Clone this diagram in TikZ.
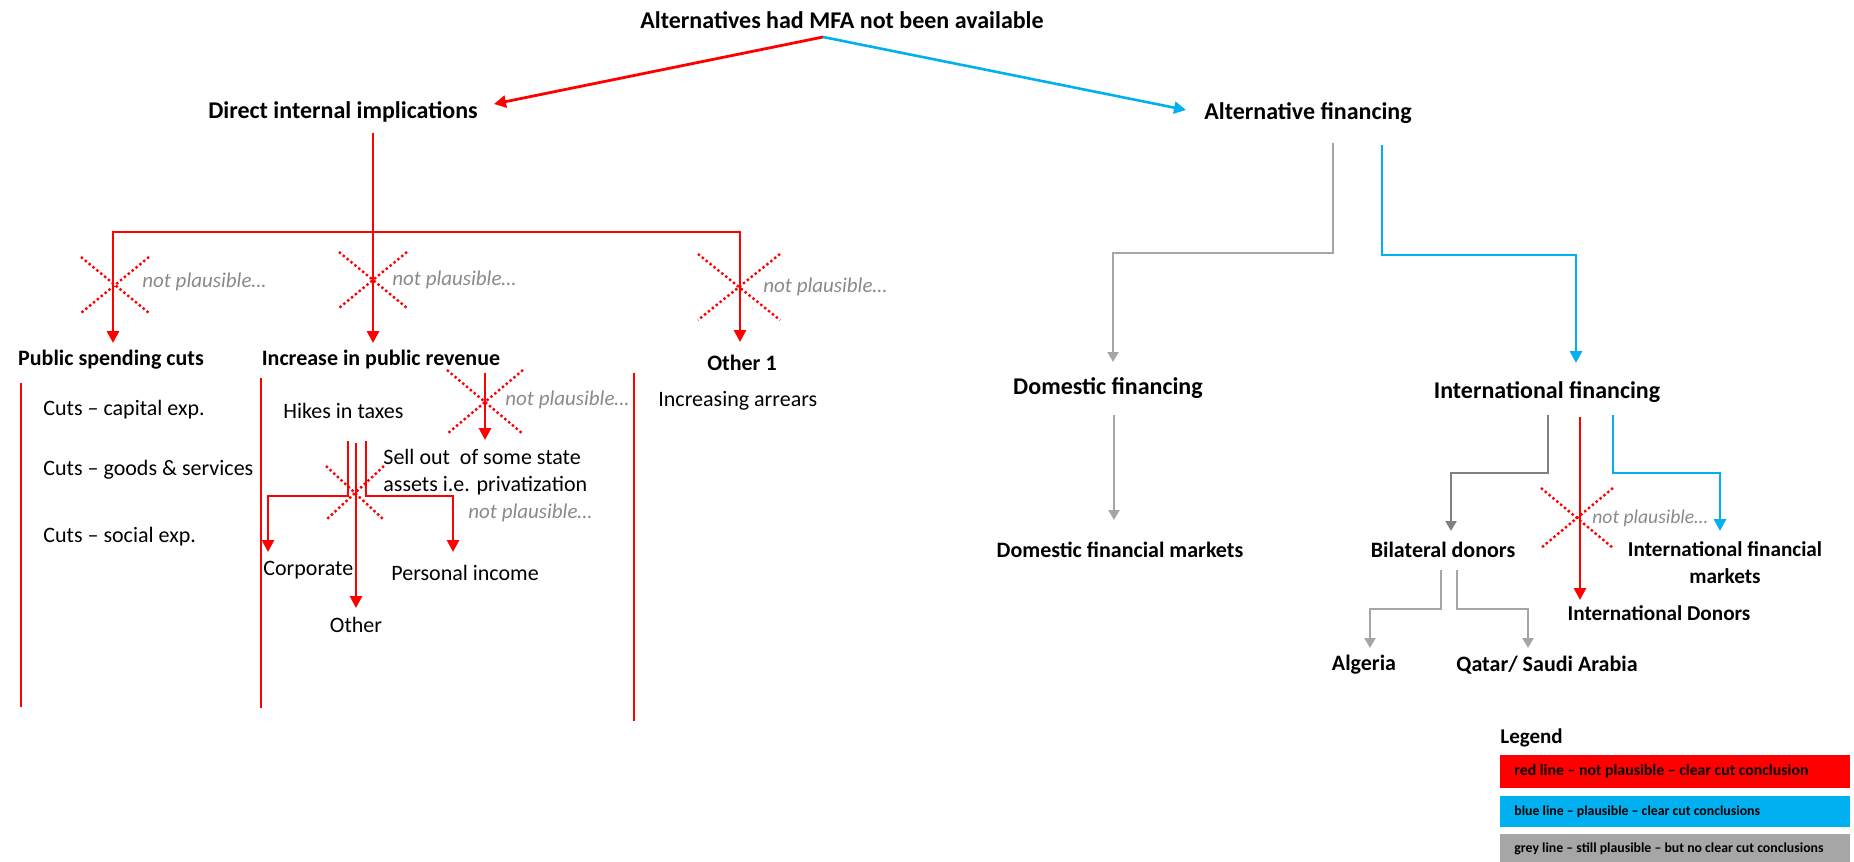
\documentclass[tikz,border=0pt]{standalone}
\usepackage{fontspec}
\setmainfont{Carlito}
\usetikzlibrary{arrows.meta}
\definecolor{cred}{HTML}{FF0000}
\definecolor{cblue}{HTML}{00B0F0}
\definecolor{cgrey}{HTML}{A6A6A6}
\definecolor{cdgrey}{HTML}{808080}
\definecolor{nptext}{HTML}{8A8A8A}
\newcommand\xcross[4]{%
  \draw[xmark] (#1-#3,#2-#4) -- (#1+#3,#2+#4);
  \draw[xmark] (#1+#3,#2-#4) -- (#1-#3,#2+#4);}
\begin{document}
\begin{tikzpicture}[x=0.5pt,y=-0.5pt,
  rl/.style={draw=cred,line width=1.4pt},
  ra/.style={rl,-{Triangle[length=6pt,width=6pt]}},
  bl/.style={draw=cblue,line width=1.3pt},
  ba/.style={bl,-{Triangle[length=6pt,width=6pt]}},
  gl/.style={draw=cgrey,line width=1.1pt},
  ga/.style={gl,-{Triangle[length=5pt,width=5.5pt]}},
  dga/.style={draw=cdgrey,line width=1.1pt,-{Triangle[length=5pt,width=5.5pt]}},
  sepline/.style={draw=cred,line width=0.6pt},
  xmark/.style={draw=cred,line width=1.2pt,dash pattern=on 1.2pt off 1.3pt},
  np/.style={font=\fontsize{10.5}{12}\selectfont\itshape,text=nptext,anchor=west,inner sep=0pt},
  hb/.style={font=\fontsize{12}{14}\selectfont\bfseries,inner sep=1pt},
  hs/.style={font=\fontsize{11}{13.5}\selectfont\bfseries,inner sep=1pt},
  hsn/.style={font=\fontsize{10.6}{13.5}\selectfont\bfseries,inner sep=1pt},
  tx/.style={font=\fontsize{11}{13.5}\selectfont,anchor=west,inner sep=0pt},
  legtext/.style={anchor=west,inner sep=0pt,font=\fontsize{6.9}{8}\selectfont\bfseries}
]
\useasboundingbox (0,0) rectangle (1854,862);

% ---------- top ----------
\node[hb] (title) at (842,20) {Alternatives had MFA not been available};
\coordinate (apex) at (823,37);
\node[hb] (dii) at (343,112) {Direct internal implications};
\node[hb] (alt) at (1308,113) {Alternative financing};
\coordinate (dii-in) at (494,104);
\coordinate (alt-in) at (1186,110);
\draw[ra] (apex) -- (dii-in);
\draw[ba] (apex) -- (alt-in);

% ---------- direct internal implications ----------
\coordinate (dii-out) at (373,133);
\coordinate (hM) at (373,232);
\coordinate (psc-in) at (113,343);
\coordinate (ipr-in) at (373,343);
\coordinate (oth-in) at (740,342);
\draw[ra] (hM) -| (psc-in);
\draw[ra] (hM) -| (oth-in);
\draw[ra] (dii-out) -- (ipr-in);

\xcross{115}{285}{34}{28}
\xcross{373}{280}{34}{28}
\xcross{739}{287}{41}{33}
\node[np] (np1) at (142,282) {not plausible…};
\node[np] (np2) at (392,280) {not plausible…};
\node[np] (np3) at (763,287) {not plausible…};

\node[hs] (psc) at (111,360) {Public spending cuts};
\node[hs] (ipr) at (381,360) {Increase in public revenue};
\node[hs] (oth1) at (742,363) {Other 1};

\draw[sepline] (21,383) -- (21,707);
\draw[sepline] (261,378) -- (261,708);
\draw[sepline] (634,373) -- (634,721);

\node[tx] (cap) at (43,410) {Cuts – capital exp.};
\node[tx] (gs) at (43,470) {Cuts – goods \& services};
\node[tx] (soc) at (43,537) {Cuts – social exp.};
\node[tx] (hikes) at (283,411) {Hikes in taxes};
\node[tx] (arrears) at (658,401) {Increasing arrears};
\node[tx,align=left] (sell) at (383,472) {Sell out\ \ of some state\\assets i.e. privatization};
\node[tx] (corp) at (263,570) {Corporate};
\node[tx] (pers) at (391,573) {Personal income};
\node[font=\fontsize{11}{13.5}\selectfont,inner sep=0pt] (other) at (356,625) {Other};

% privatization branch
\coordinate (sell-src) at (485,373);
\coordinate (sell-in) at (485,440);
\draw[ra] (sell-src) -- (sell-in);
\xcross{485}{402}{38}{32}
\node[np] (np4) at (505,400) {not plausible…};

% tax branches
\coordinate (tax-a) at (348,441);
\coordinate (tax-b) at (356,443);
\coordinate (tax-c) at (366,441);
\coordinate (corp-in) at (268,552);
\coordinate (other-in) at (356,608);
\coordinate (pers-in) at (453,552);
\draw[ra] (tax-a) |- (300,496) -| (corp-in);
\draw[ra] (tax-b) -- (other-in);
\draw[ra] (tax-c) |- (420,496) -| (pers-in);
\xcross{355}{493}{29}{27}
\node[np] (np5) at (468,513) {not plausible…};

% ---------- alternative financing ----------
\coordinate (alt-g) at (1333,143);
\coordinate (alt-b) at (1382,145);
\coordinate (domf-in) at (1113,362);
\coordinate (intf-in) at (1576,363);
\draw[ga] (alt-g) |- (1200,253) -| (domf-in);
\draw[ba] (alt-b) |- (1500,255) -| (intf-in);

\node[hb] (domf) at (1108,388) {Domestic financing};
\node[hb] (intf) at (1547,392) {International financing};

\coordinate (domf-out) at (1114,415);
\coordinate (dfm-in) at (1114,520);
\draw[ga] (domf-out) -- (dfm-in);
\node[hs] (dfm) at (1120,550) {Domestic financial markets};

\coordinate (intf-g) at (1548,415);
\coordinate (intf-r) at (1580,417);
\coordinate (intf-b) at (1613,415);
\coordinate (bil-in) at (1451,531);
\coordinate (intd-in) at (1580,600);
\coordinate (ifm-in) at (1720,531);
\draw[dga] (intf-g) |- (1500,473) -| (bil-in);
\draw[ra] (intf-r) -- (intd-in);
\draw[ba] (intf-b) |- (1680,473) -| (ifm-in);
\xcross{1577}{518}{36}{30}
\node[np,font=\fontsize{9.8}{12}\selectfont\itshape] (np6) at (1592,518) {not plausible…};

\node[hs] (bil) at (1443,550) {Bilateral donors};
\node[hsn,align=center] (ifm) at (1725,563) {International financial\\markets};
\node[hsn] (intd) at (1659,613) {International Donors};

\coordinate (bil-l) at (1441,570);
\coordinate (bil-r) at (1457,570);
\coordinate (alg-in) at (1370,648);
\coordinate (qsa-in) at (1528,648);
\draw[ga] (bil-l) |- (1400,609) -| (alg-in);
\draw[ga] (bil-r) |- (1490,609) -| (qsa-in);
\node[hs] (alg) at (1364,665) {Algeria};
\node[hs] (qsa) at (1547,665) {Qatar/ Saudi Arabia};

% ---------- legend ----------
\node[font=\fontsize{10.5}{12}\selectfont\bfseries,anchor=west,inner sep=0pt] (leg) at (1500,738) {Legend};
\fill[cred] (1500,755) rectangle (1850,788);
\fill[cblue] (1500,796) rectangle (1850,827);
\fill[cgrey] (1500,834) rectangle (1850,862);
\node[legtext,font=\fontsize{7.9}{9}\selectfont\bfseries] (legr) at (1514,771.5) {red line – not plausible – clear cut conclusion};
\node[legtext] (legb) at (1514,811.5) {blue line – plausible – clear cut conclusions};
\node[legtext] (legg) at (1514,848.5) {grey line – still plausible – but no clear cut conclusions};
\end{tikzpicture}
\end{document}
